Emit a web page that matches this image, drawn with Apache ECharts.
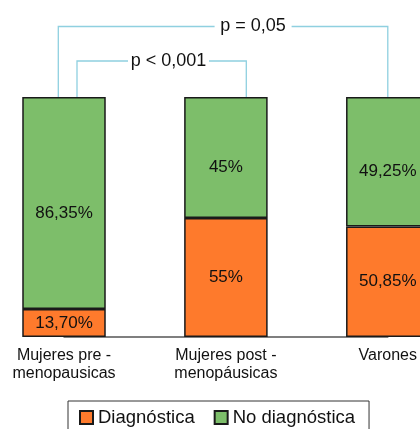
<!DOCTYPE html>
<html><head><meta charset="utf-8">
<script src="https://cdn.jsdelivr.net/npm/echarts@6/dist/echarts.min.js"></script>
<style>html,body{margin:0;padding:0;background:#fff}#c{width:420px;height:429px}</style>
</head><body><div id="c"></div>
<script>
const categories = ['Mujeres pre -\nmenopausicas', 'Mujeres post -\nmenopáusicas', 'Varones'];
const seriesNames = ['Diagnóstica', 'No diagnóstica'];
// bar heights as drawn in the reference (percent of full bar)
const diagnostica = [11.7, 49.6, 46.0];
const noDiagnostica = [88.3, 50.4, 54.0];
// printed value labels
const diagnosticaLabels = ['13,70%', '55%', '50,85%'];
const noDiagnosticaLabels = ['86,35%', '45%', '49,25%'];
const pTexts = ['p < 0,001', 'p = 0,05'];

const FONT = "'Liberation Sans', Arial, Helvetica, sans-serif";
const ORANGE = '#fe7a2c';
const GREEN = '#7dbe6a';
const LINE = '#8fd0e0';

const chart = echarts.init(document.getElementById('c'), null, {renderer: 'canvas'});
chart.setOption({
  animation: false,
  backgroundColor: '#fff',
  textStyle: {fontFamily: FONT},
  grid: {left: 64, right: 29, top: 97, bottom: 92, containLabel: false},
  xAxis: {
    type: 'category', data: categories, boundaryGap: false,
    axisLine: {lineStyle: {color: '#555', width: 1.5}},
    axisTick: {show: false},
    axisLabel: {fontSize: 16, lineHeight: 18, color: '#111', margin: 10, fontFamily: FONT, interval: 0}
  },
  yAxis: {type: 'value', min: 0, max: 100, show: false, splitLine: {show: false}},
  legend: {
    data: seriesNames, left: 68, top: 401, orient: 'horizontal',
    borderColor: '#333', borderWidth: 1, padding: [7, 14, 20, 11],
    itemWidth: 13, itemHeight: 13, itemGap: 19, icon: 'rect',
    textStyle: {fontSize: 18.5, color: '#111', fontFamily: FONT}
  },
  series: [
    {
      name: seriesNames[0], type: 'bar', stack: 's', data: diagnostica, barWidth: 83.5, clip: false,
      itemStyle: {color: ORANGE, borderColor: '#1a1a1a', borderWidth: 1.5},
      label: {show: true, position: 'inside', fontSize: 17, color: '#111', fontFamily: FONT,
        formatter: p => diagnosticaLabels[p.dataIndex]}
    },
    {
      name: seriesNames[1], type: 'bar', stack: 's', data: noDiagnostica, barWidth: 83.5, clip: false,
      itemStyle: {color: GREEN, borderColor: '#1a1a1a', borderWidth: 1.5},
      label: {show: true, position: 'inside', fontSize: 17, color: '#111', fontFamily: FONT,
        offset: [0, 10], formatter: p => noDiagnosticaLabels[p.dataIndex]}
    }
  ]
});

const c0 = chart.convertToPixel({xAxisIndex: 0}, 0);
const c1 = chart.convertToPixel({xAxisIndex: 0}, 1);
const c2 = chart.convertToPixel({xAxisIndex: 0}, 2);
const yTop = chart.convertToPixel({yAxisIndex: 0}, 100);
const yOuter = yTop - 70.5, yInner = yTop - 36;
const ls = {stroke: LINE, lineWidth: 1.3, fill: null};
function pl(points) { return {type: 'polyline', shape: {points}, style: ls, silent: true}; }
chart.setOption({
  graphic: [
    pl([[c0 - 5.7, yTop], [c0 - 5.7, yOuter], [c1 - 11.3, yOuter]]),
    pl([[c1 + 65.7, yOuter], [c2, yOuter], [c2, yTop]]),
    pl([[c0 + 13, yTop], [c0 + 13, yInner], [c0 + 64, yInner]]),
    pl([[c0 + 145, yInner], [c1 + 20.4, yInner], [c1 + 20.4, yTop]]),
    {type: 'text', x: (c1 - 11.3 + c1 + 65.7) / 2, y: yOuter, silent: true,
      style: {text: pTexts[1], font: '18px ' + FONT, fill: '#111', align: 'center', verticalAlign: 'middle'}},
    {type: 'text', x: (c0 + 64 + c0 + 145) / 2, y: yInner, silent: true,
      style: {text: pTexts[0], font: '18px ' + FONT, fill: '#111', align: 'center', verticalAlign: 'middle'}}
  ]
});
</script></body></html>
